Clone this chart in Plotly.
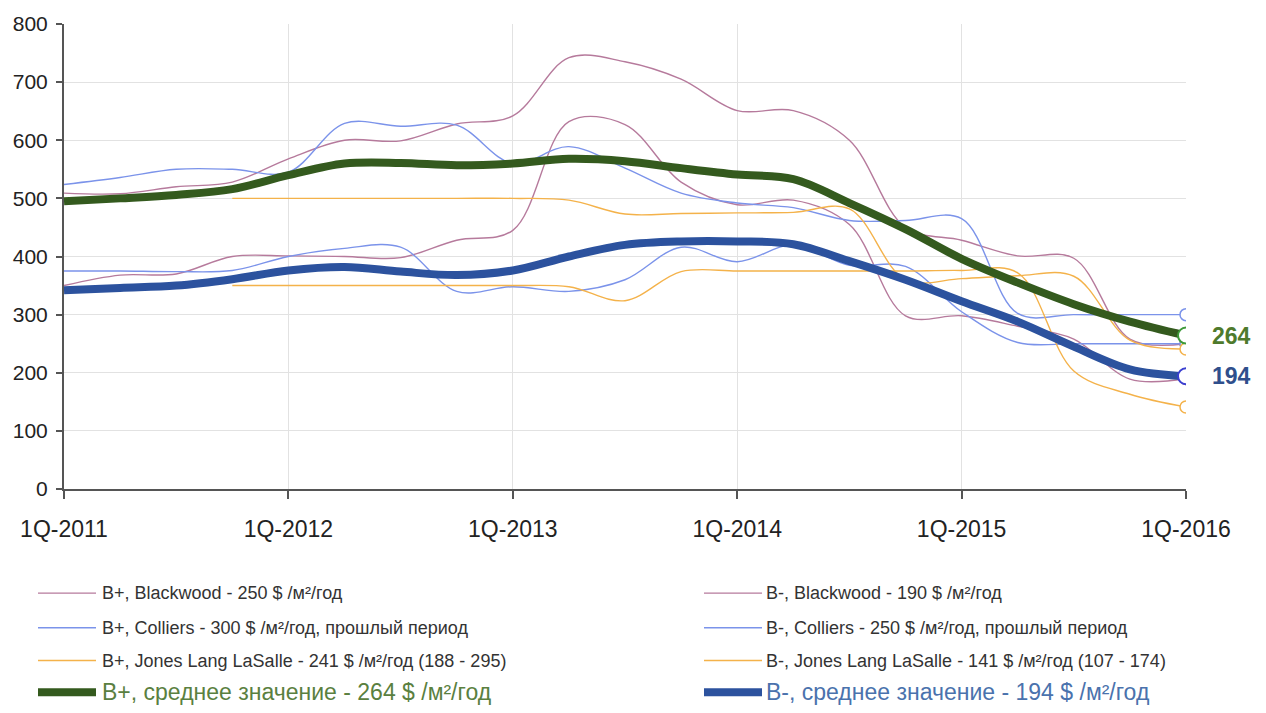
import plotly.graph_objects as go

# Quarterly rent rates, $ per m² per year, 1Q-2011 … 1Q-2016
quarters = list(range(21))
tick_pos = [0, 4, 8, 12, 16, 20]
tick_text = ["1Q-2011", "1Q-2012", "1Q-2013", "1Q-2014", "1Q-2015", "1Q-2016"]

bp_blackwood = [509, 508, 520, 528, 568, 600, 599, 628, 642, 742, 735, 705, 651, 651, 600, 450, 428, 401, 397, 258, 250]
bm_blackwood = [350, 368, 370, 400, 401, 400, 398, 428, 445, 632, 627, 528, 489, 497, 455, 298, 298, 280, 258, 189, 190]
bp_colliers = [524, 536, 550, 550, 545, 629, 624, 626, 560, 589, 552, 509, 492, 484, 462, 462, 465, 302, 300, 300, 300]
bm_colliers = [375, 375, 374, 376, 400, 414, 416, 340, 348, 340, 360, 416, 391, 420, 385, 383, 305, 252, 250, 250, 250]
bp_jll = [None, None, None, 500, 500, 500, 500, 500, 500, 497, 473, 474, 475, 476, 482, 360, 362, 367, 366, 256, 241]
bm_jll = [None, None, None, 350, 350, 350, 350, 350, 350, 348, 324, 374, 375, 375, 375, 375, 376, 372, 203, 163, 141]
bp_avg = [495, 500, 506, 516, 540, 560, 561, 557, 560, 568, 564, 552, 541, 533, 492, 447, 396, 355, 318, 288, 264]
bm_avg = [342, 346, 350, 361, 376, 382, 374, 368, 376, 400, 420, 426, 426, 421, 392, 360, 323, 288, 245, 206, 194]

names = [
    "B+, Blackwood - 250 $ /м²/год",
    "B-, Blackwood - 190 $ /м²/год",
    "B+, Colliers - 300 $ /м²/год, прошлый период",
    "B-, Colliers - 250 $ /м²/год, прошлый период",
    "B+, Jones Lang LaSalle - 241 $ /м²/год (188 - 295)",
    "B-, Jones Lang LaSalle - 141 $ /м²/год (107 - 174)",
    "B+, среднее значение - 264 $ /м²/год",
    "B-, среднее значение - 194 $ /м²/год",
]

MAUVE = "#b67a9c"
LBLUE = "#7b93ea"
ORANGE = "#f4b24a"
GREEN = "#345a1e"
DBLUE = "#2c529e"
GREEN_TXT = "#5a8040"
BLUE_TXT = "#4a72ad"

FONT = "Liberation Sans Narrow, Arial Narrow, Liberation Sans, sans-serif"

thin = [
    (bp_blackwood, MAUVE, names[0]),
    (bm_blackwood, MAUVE, names[1]),
    (bp_colliers, LBLUE, names[2]),
    (bm_colliers, LBLUE, names[3]),
    (bp_jll, ORANGE, names[4]),
    (bm_jll, ORANGE, names[5]),
]
thick = [
    (bp_avg, GREEN, names[6]),
    (bm_avg, DBLUE, names[7]),
]

fig = go.Figure()

for vals, col, nm in thin:
    fig.add_trace(go.Scatter(
        x=quarters, y=vals, mode="lines", name=nm, showlegend=False,
        line=dict(color=col, width=1.4, shape="spline", smoothing=1.0),
        connectgaps=False,
    ))
for vals, col, nm in thick:
    fig.add_trace(go.Scatter(
        x=quarters, y=vals, mode="lines", name=nm, showlegend=False,
        line=dict(color=col, width=8, shape="spline", smoothing=1.0),
    ))

# open circles on the latest quarter
end_markers = [
    (bp_blackwood, MAUVE, 12, 1.5),
    (bm_blackwood, MAUVE, 12, 1.5),
    (bp_colliers, LBLUE, 12, 1.5),
    (bm_colliers, LBLUE, 12, 1.5),
    (bp_jll, ORANGE, 12, 1.5),
    (bm_jll, ORANGE, 12, 1.5),
    (bp_avg, "#3e9a3a", 16, 2),
    (bm_avg, "#3a3fd0", 16, 2),
]
for vals, col, size, lw in end_markers:
    fig.add_trace(go.Scatter(
        x=[quarters[-1]], y=[vals[-1]], mode="markers", showlegend=False,
        marker=dict(symbol="circle", size=size, color="white",
                    line=dict(color=col, width=lw)),
    ))

# value labels for the two averages
fig.add_annotation(x=quarters[-1], y=bp_avg[-1], xref="x", yref="y",
                   text=f"<b>{bp_avg[-1]}</b>", showarrow=False, xshift=45,
                   font=dict(family=FONT, size=23, color="#4e7a2c"))
fig.add_annotation(x=quarters[-1], y=bm_avg[-1], xref="x", yref="y",
                   text=f"<b>{bm_avg[-1]}</b>", showarrow=False, xshift=45,
                   font=dict(family=FONT, size=23, color="#2f4f8c"))

# page geometry (pixels)
W, H = 1266, 713
ML, MR, MT, MB = 64, 80, 20, 224
PW, PH = W - ML - MR, H - MT - MB


def px(x):
    return (x - ML) / PW


def py(y):
    return (H - MB - y) / PH


# two-column key below the chart
key_rows = [594, 629, 662, 694]
key_cols = [(38, 96, 100), (704, 762, 764)]
key_layout = [
    (0, 0, MAUVE, 1.4, names[0], 18, "#333333"),
    (1, 0, MAUVE, 1.4, names[1], 18, "#333333"),
    (0, 1, LBLUE, 1.4, names[2], 18, "#333333"),
    (1, 1, LBLUE, 1.4, names[3], 18, "#333333"),
    (0, 2, ORANGE, 1.4, names[4], 18, "#333333"),
    (1, 2, ORANGE, 1.4, names[5], 18, "#333333"),
    (0, 3, GREEN, 8, names[6], 23, GREEN_TXT),
    (1, 3, DBLUE, 8, names[7], 23, BLUE_TXT),
]
for c, r, col, lw, txt, fs, tcol in key_layout:
    x0, x1, xt = key_cols[c]
    yy = key_rows[r]
    fig.add_shape(type="line", xref="paper", yref="paper",
                  x0=px(x0), x1=px(x1), y0=py(yy), y1=py(yy),
                  line=dict(color=col, width=lw))
    fig.add_annotation(xref="paper", yref="paper", x=px(xt), y=py(yy),
                       xanchor="left", yanchor="middle", showarrow=False,
                       text=txt, font=dict(family=FONT, size=fs, color=tcol))

fig.update_layout(
    width=W, height=H,
    margin=dict(l=ML, r=MR, t=MT, b=MB, pad=0),
    paper_bgcolor="white", plot_bgcolor="white",
    showlegend=False,
    font=dict(family=FONT, color="#222222"),
    xaxis=dict(
        range=[0, 20], tickmode="array", tickvals=tick_pos, ticktext=tick_text,
        showgrid=True, gridcolor="#e2e2e2", gridwidth=1,
        showline=True, linecolor="#555555", linewidth=2,
        ticks="outside", ticklen=8, tickwidth=2, tickcolor="#555555",
        ticklabelstandoff=10,
        tickfont=dict(family=FONT, size=23, color="#222222"),
        zeroline=False, fixedrange=True,
    ),
    yaxis=dict(
        range=[0, 800], tickmode="linear", tick0=0, dtick=100,
        showgrid=True, gridcolor="#e2e2e2", gridwidth=1,
        showline=True, linecolor="#555555", linewidth=2,
        ticks="outside", ticklen=6, tickwidth=2, tickcolor="#555555",
        ticklabelstandoff=4,
        tickfont=dict(family=FONT, size=21, color="#222222"),
        zeroline=False, fixedrange=True,
    ),
)

fig.write_html("out.html", config={"displayModeBar": False})
